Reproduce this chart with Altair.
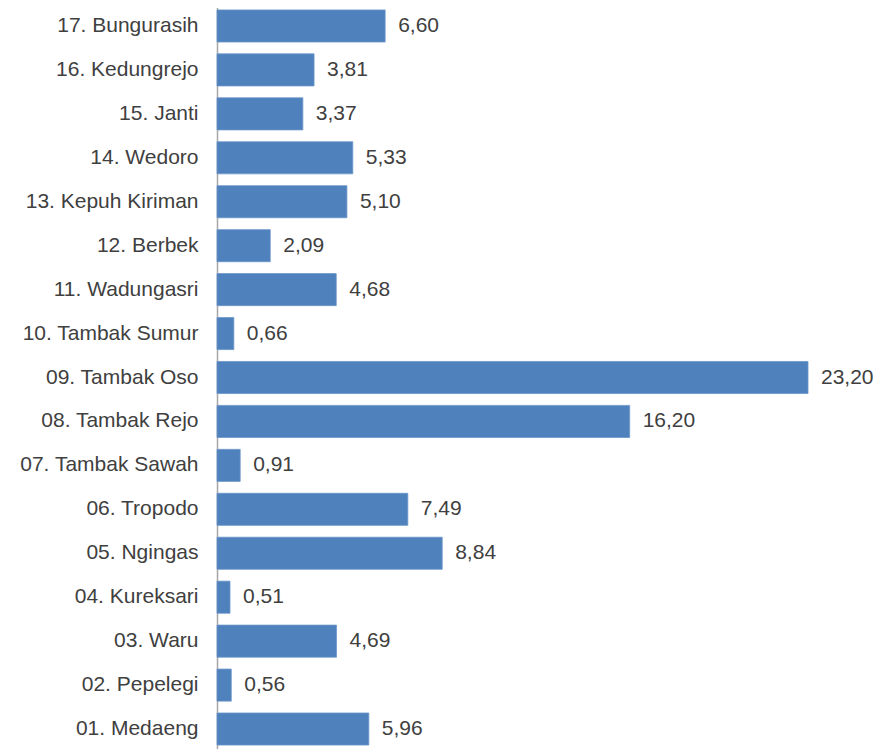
import altair as alt
import pandas as pd

categories = [
    "17. Bungurasih", "16. Kedungrejo", "15. Janti", "14. Wedoro",
    "13. Kepuh Kiriman", "12. Berbek", "11. Wadungasri", "10. Tambak Sumur",
    "09. Tambak Oso", "08. Tambak Rejo", "07. Tambak Sawah", "06. Tropodo",
    "05. Ngingas", "04. Kureksari", "03. Waru", "02. Pepelegi", "01. Medaeng",
]
values = [6.60, 3.81, 3.37, 5.33, 5.10, 2.09, 4.68, 0.66,
          23.20, 16.20, 0.91, 7.49, 8.84, 0.51, 4.69, 0.56, 5.96]

df = pd.DataFrame({
    "kel": categories,
    "val": values,
    "lbl": [f"{v:.2f}".replace(".", ",") for v in values],
})

FONT = "Liberation Sans"
TXT = "#404040"
FS = 21

y = alt.Y(
    "kel:N", sort=categories, title=None,
    scale=alt.Scale(range=[-4, 743], paddingInner=0.27, paddingOuter=0.135),
    axis=alt.Axis(ticks=False, labelPadding=19, labelFont=FONT, labelFontSize=FS,
                  labelColor=TXT, domainColor="#a6a6a6", domainWidth=1.5,
                  labelLimit=300),
)
x = alt.X("val:Q", title=None, scale=alt.Scale(domain=[0, 23.2], nice=False, zero=True),
          axis=None)

bars = alt.Chart(df).mark_bar(color="#4f81bd", stroke="#6b95c9", strokeWidth=0.8).encode(x=x, y=y)
text = alt.Chart(df).mark_text(align="left", baseline="middle", dx=13, font=FONT,
                               fontSize=FS, color=TXT).encode(x=x, y=y, text="lbl:N")

chart = (bars + text).properties(
    width=591, height=741,
    autosize=alt.AutoSizeParams(type="none"),
    padding={"left": 209, "top": 0, "right": 65, "bottom": 0},
).configure_view(stroke=None)

chart.save("out.html", embed_options={"renderer": "svg", "actions": False})
